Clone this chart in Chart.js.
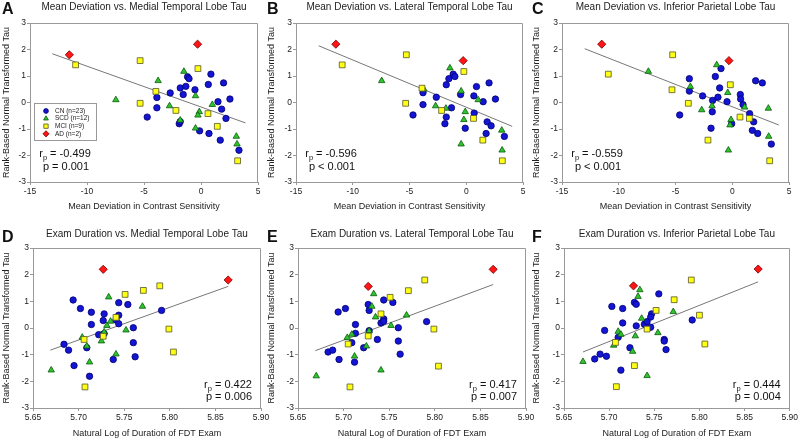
<!DOCTYPE html>
<html>
<head>
<meta charset="utf-8">
<script src="https://cdn.jsdelivr.net/npm/chart.js@4.4.1/dist/chart.umd.min.js"></script>
<style>
    body { margin: 0; background: #fff; width: 800px; height: 440px; position: relative; overflow: hidden; }
    canvas { position: absolute; }
</style>
</head>
<body>
<script>
// tick labels
const mdTicks = [-15, -10, -5, 0, 5]
const durTicks = [5.65, 5.70, 5.75, 5.80, 5.85, 5.90]
const tauTicks = [-3, -2, -1, 0, 1, 2, 3]
const groupNames = ["CN (n=23)", "SCD (n=12)", "MCI (n=9)", "AD (n=2)"]

// A: mean deviation vs medial temporal tau
const cnA = [[-4.72,-0.55],[-3.87,0.19],[-3.87,-0.2],[-2.7,0.36],[-1.82,0.55],[-1.56,0.3],[-1.33,0.61],[-1.18,0.97],[-1.05,0.9],[-1.91,-0.8],[-1.82,-0.72],[-0.53,0.48],[-0.12,-1.07],[0.64,0.68],[0.87,1.07],[0.7,-1.17],[1.49,0.03],[1.81,-0.25],[1.98,0.74],[1.69,-1.42],[2.19,-0.6],[2.54,0.13],[3.33,-1.8]]
const scdA = [[-7.47,0.1],[-3.76,0.82],[-2.76,-0.13],[-1.82,-0.67],[-1.5,1.17],[-0.48,0.25],[-0.48,-0.97],[-0.15,-0.35],[-0.27,-0.48],[0.99,-0.08],[3.1,-1.28],[3.16,-1.57]]
const mciA = [[-11.0,1.42],[-5.34,1.58],[-5.34,-0.03],[-3.96,0.42],[-2.2,-0.3],[-0.27,1.28],[0.61,-0.42],[1.43,-0.9],[3.21,-2.2]]
const adA = [[-11.55,1.8],[-0.3,2.2]]
const fitA = [[-13.05,1.84],[3.9,-0.77]]

// B: mean deviation vs lateral temporal tau
const cnB = [[-4.69,-0.47],[-3.81,0.37],[-3.81,-0.08],[-2.64,0.2],[-1.76,0.67],[-1.53,0.9],[-1.15,1.07],[-1.0,0.98],[-1.3,-0.2],[-1.76,-0.55],[-1.88,-0.8],[-0.5,0.3],[-0.09,-0.97],[0.7,-0.4],[0.67,0.25],[0.9,0.6],[1.49,0.03],[1.84,-0.73],[1.75,-1.17],[2.01,0.74],[2.19,-0.88],[2.57,0.13],[3.36,-1.28]]
const scdB = [[-7.45,0.82],[-3.73,0.5],[-2.7,-0.13],[-1.79,-0.22],[-1.44,1.3],[-0.45,0.43],[-0.09,-0.35],[-0.21,-0.65],[-0.45,-1.57],[1.05,0.1],[3.13,-1.05],[3.16,-1.8]]
const mciB = [[-10.93,1.42],[-5.28,1.8],[-5.34,-0.03],[-3.9,0.54],[-2.17,-0.3],[-0.21,1.17],[0.64,-0.6],[1.46,-1.42],[3.18,-2.2]]
const adB = [[-11.49,2.2],[-0.27,1.58]]
const fitB = [[-13.0,2.14],[4.05,-0.9]]

// C: mean deviation vs inferior parietal tau
const cnC = [[-4.63,-0.47],[-3.78,0.9],[-3.78,0.43],[-2.61,0.25],[-1.73,0.08],[-1.76,-0.35],[-1.87,-0.97],[-1.49,0.98],[-0.99,1.28],[-1.11,0.55],[-1.26,0.2],[-0.46,0.03],[-0.05,-0.8],[0.71,0.3],[0.74,0.13],[0.95,-0.08],[1.53,-0.42],[1.89,-0.73],[1.77,-1.05],[2.06,0.82],[2.65,0.74],[2.24,-1.17],[3.44,-1.57]]
const scdC = [[-7.39,1.17],[-3.69,0.6],[-2.69,-0.28],[-1.78,-0.13],[-1.37,1.42],[-0.4,0.37],[-0.34,-1.8],[-0.11,-0.65],[-0.2,-0.85],[1.09,-0.18],[3.18,-0.22],[3.21,-1.28]]
const mciC = [[-10.92,1.07],[-5.25,1.8],[-5.31,0.48],[-3.87,-0.03],[-2.14,-1.42],[-0.17,0.67],[0.68,-0.55],[1.51,-0.6],[3.3,-2.2]]
const adC = [[-11.5,2.2],[-0.29,1.58]]
const fitC = [[-13.0,2.03],[4.1,-0.85]]

// D: exam duration vs medial temporal tau
const cnD = [[5.684,-0.61],[5.689,-0.83],[5.694,1.05],[5.695,-1.41],[5.702,0.73],[5.709,-0.74],[5.714,0.59],[5.714,0.13],[5.712,-1.81],[5.722,-0.25],[5.727,0.28],[5.728,0.53],[5.728,-0.21],[5.741,0.3],[5.744,0.95],[5.744,0.48],[5.744,0.16],[5.738,-1.18],[5.754,0.88],[5.76,0.01],[5.76,-0.55],[5.762,-1.08],[5.791,0.66]]
const scdD = [[5.67,-1.58],[5.704,-0.35],[5.709,-0.68],[5.712,-1.28],[5.725,-0.49],[5.728,-0.15],[5.731,0.09],[5.733,1.16],[5.735,0.25],[5.741,-0.98],[5.752,-0.08],[5.77,0.81]]
const mciD = [[5.706,-0.43],[5.727,-0.31],[5.741,0.4],[5.751,1.26],[5.771,1.41],[5.789,1.58],[5.799,-0.04],[5.804,-0.9],[5.707,-2.21]]
const adD = [[5.727,2.2],[5.864,1.8]]
const fitD = [[5.669,-0.83],[5.864,1.56]]

// E: exam duration vs lateral temporal tau
const cnE = [[5.683,-0.9],[5.688,-0.83],[5.694,0.6],[5.695,-1.18],[5.702,0.73],[5.709,-0.55],[5.713,0.13],[5.713,-0.2],[5.712,-1.28],[5.722,-0.74],[5.727,0.88],[5.728,0.66],[5.728,-0.1],[5.737,-0.43],[5.741,0.19],[5.744,1.05],[5.744,0.34],[5.744,0.25],[5.754,0.96],[5.76,0.01],[5.76,-0.49],[5.762,-0.98],[5.791,0.24]]
const scdE = [[5.67,-1.8],[5.704,-0.36],[5.709,-0.24],[5.712,-1.06],[5.725,-0.68],[5.728,-0.11],[5.731,0.81],[5.733,1.28],[5.735,0.41],[5.741,-1.58],[5.752,0.09],[5.769,0.48]]
const mciE = [[5.705,-0.6],[5.707,-2.21],[5.727,-0.3],[5.741,0.53],[5.751,1.15],[5.771,1.4],[5.789,1.8],[5.799,-0.04],[5.804,-1.43]]
const adE = [[5.727,1.56],[5.864,2.2]]
const fitE = [[5.669,-0.85],[5.864,1.63]]

// F: exam duration vs inferior parietal tau
const cnF = [[5.684,-1.16],[5.69,-0.98],[5.695,-0.09],[5.697,-1.06],[5.703,0.81],[5.71,-0.35],[5.715,0.73],[5.715,0.19],[5.713,-1.58],[5.723,-0.74],[5.728,0.96],[5.73,0.89],[5.73,0.08],[5.739,0.14],[5.742,0.24],[5.747,0.53],[5.746,0.41],[5.746,0.03],[5.755,1.28],[5.761,-0.43],[5.761,-0.49],[5.763,-0.81],[5.792,0.3]]
const scdF = [[5.671,-1.26],[5.705,-0.65],[5.71,-0.13],[5.713,-0.24],[5.726,-0.88],[5.729,-0.3],[5.732,1.18],[5.734,1.43],[5.736,0.36],[5.742,-1.79],[5.754,-0.18],[5.771,0.61]]
const mciF = [[5.707,-0.54],[5.708,-2.2],[5.728,-1.41],[5.742,-0.04],[5.752,0.66],[5.772,1.06],[5.791,1.8],[5.8,0.48],[5.806,-0.6]]
const adF = [[5.727,1.58],[5.865,2.21]]
const fitF = [[5.671,-0.9],[5.865,1.73]]

const MD_TITLE = "Mean Deviation in Contrast Sensitivity"
const DUR_TITLE = "Natural Log of Duration of FDT Exam"
const Y_TITLE = "Rank-Based Normal Transformed Tau"

const panels = [
    { letter: "A", title: "Mean Deviation vs. Medial Temporal Lobe Tau", xTitle: MD_TITLE, xTicks: mdTicks, sets: [cnA, scdA, mciA, adA], fit: fitA, r: "-0.499", p: "p = 0.001", legend: true },
    { letter: "B", title: "Mean Deviation vs. Lateral Temporal Lobe Tau", xTitle: MD_TITLE, xTicks: mdTicks, sets: [cnB, scdB, mciB, adB], fit: fitB, r: "-0.596", p: "p < 0.001" },
    { letter: "C", title: "Mean Deviation vs. Inferior Parietal Lobe Tau", xTitle: MD_TITLE, xTicks: mdTicks, sets: [cnC, scdC, mciC, adC], fit: fitC, r: "-0.559", p: "p < 0.001" },
    { letter: "D", title: "Exam Duration vs. Medial Temporal Lobe Tau", xTitle: DUR_TITLE, xTicks: durTicks, sets: [cnD, scdD, mciD, adD], fit: fitD, r: "0.422", p: "p = 0.006" },
    { letter: "E", title: "Exam Duration vs. Lateral Temporal Lobe Tau", xTitle: DUR_TITLE, xTicks: durTicks, sets: [cnE, scdE, mciE, adE], fit: fitE, r: "0.417", p: "p = 0.007" },
    { letter: "F", title: "Exam Duration vs. Inferior Parietal Lobe Tau", xTitle: DUR_TITLE, xTicks: durTicks, sets: [cnF, scdF, mciF, adF], fit: fitF, r: "0.444", p: "p = 0.004" },
]

// canvas boxes and plot-area insets (pixels)
const boxes = [
    { x: 0, y: 0, w: 270, h: 215, yw: 30, pr: 12, pt: 23, xh: 33, titleY: 7.5, letterY: 13.5, top: true },
    { x: 265, y: 0, w: 270, h: 215, yw: 31, pr: 12, pt: 23, xh: 33, titleY: 7.5, letterY: 13.5, top: true },
    { x: 530, y: 0, w: 270, h: 215, yw: 32, pr: 11, pt: 23, xh: 33, titleY: 7.5, letterY: 13.5, top: true },
    { x: 0, y: 215, w: 275, h: 225, yw: 33, pr: 14, pt: 33, xh: 32, titleY: 19, letterY: 26.5, top: false },
    { x: 265, y: 215, w: 275, h: 225, yw: 33, pr: 14, pt: 33, xh: 32, titleY: 19, letterY: 26.5, top: false },
    { x: 530, y: 215, w: 270, h: 225, yw: 34, pr: 9, pt: 33, xh: 32, titleY: 19, letterY: 26.5, top: false },
]

const STYLES = [
    { pointStyle: "circle", radius: 3.2, bg: "#1414d4", border: "#00006e" },
    { pointStyle: "triangle", radius: 3.7, bg: "#2ec42e", border: "#0a5a0a" },
    { pointStyle: "rect", radius: 4.1, bg: "#ffff14", border: "#55552a" },
    { pointStyle: "rectRot", radius: 4.1, bg: "#ff1515", border: "#700000" },
]

const FONT = "'Liberation Sans', Arial, sans-serif"
Chart.defaults.font.family = FONT

const toPts = arr => arr.map(([x, y]) => ({ x, y }))

function drawR(ctx, cx, cy, r) {
    ctx.textAlign = "left"
    ctx.textBaseline = "alphabetic"
    const big = `11px ${FONT}`
    const small = `7.5px ${FONT}`
    ctx.font = big
    const w1 = ctx.measureText("r").width
    const w3 = ctx.measureText(" = " + r).width
    ctx.font = small
    const w2 = ctx.measureText("p").width
    let x = cx - (w1 + w2 + w3) / 2
    const base = cy + 4
    ctx.font = big
    ctx.fillText("r", x, base)
    x += w1
    ctx.font = small
    ctx.fillText("p", x, base + 2.5)
    x += w2
    ctx.font = big
    ctx.fillText(" = " + r, x, base)
}

const decor = {
    id: "decor",
    beforeDatasetsDraw(chart) {
        const { ctx, chartArea: a } = chart
        ctx.save()
        ctx.strokeStyle = "#999"
        ctx.lineWidth = 1
        ctx.beginPath()
        const t = Math.round(a.top) + 0.5
        const rr = Math.round(a.right) - 0.5
        ctx.moveTo(a.left, t)
        ctx.lineTo(rr, t)
        ctx.lineTo(rr, a.bottom)
        ctx.stroke()
        ctx.restore()
    },
    afterDraw(chart, args, o) {
        const { ctx, chartArea: a } = chart
        ctx.save()
        ctx.fillStyle = "#111"
        ctx.font = `bold 16px ${FONT}`
        ctx.textAlign = "left"
        ctx.textBaseline = "alphabetic"
        ctx.fillText(o.letter, 2, o.letterY)

        ctx.fillStyle = "#222"
        ctx.font = `10px ${FONT}`
        ctx.textAlign = "center"
        ctx.textBaseline = "middle"
        ctx.fillText(o.title, (a.left + a.right) / 2, o.titleY)

        ctx.fillStyle = "#111"
        if (o.top) {
            const cx = a.left + 35
            drawR(ctx, cx, a.bottom - 29, o.r)
            ctx.font = `11px ${FONT}`
            ctx.textAlign = "center"
            ctx.textBaseline = "middle"
            ctx.fillText(o.p, cx + 1, a.bottom - 15)
        } else {
            const cx = a.right - 33
            drawR(ctx, cx, a.bottom - 24, o.r)
            ctx.font = `11px ${FONT}`
            ctx.textAlign = "center"
            ctx.textBaseline = "middle"
            ctx.fillText(o.p, cx + 1, a.bottom - 11)
        }

        if (o.legend) {
            const lx = a.left + 4, ly = a.top + 80
            ctx.fillStyle = "#fff"
            ctx.strokeStyle = "#999"
            ctx.lineWidth = 1
            ctx.fillRect(lx, ly, 63, 38)
            ctx.strokeRect(lx + 0.5, ly + 0.5, 62, 37)
            ctx.font = `6.5px ${FONT}`
            ctx.textAlign = "left"
            ctx.textBaseline = "middle"
            groupNames.forEach((name, i) => {
                const s = STYLES[i]
                const y = ly + 8 + i * 7.6
                ctx.fillStyle = s.bg
                ctx.strokeStyle = s.border
                ctx.lineWidth = 0.8
                Chart.helpers.drawPoint(ctx, { pointStyle: s.pointStyle, radius: s.radius * 0.75, rotation: 0, borderWidth: 0.8 }, lx + 12, y)
                ctx.fillStyle = "#222"
                ctx.fillText(name, lx + 21, y)
            })
        }
        ctx.restore()
    },
}

function axis(ticks, title, box, isX) {
    return {
        type: "linear",
        min: ticks[0],
        max: ticks[ticks.length - 1],
        afterBuildTicks: s => { s.ticks = ticks.map(v => ({ value: v })) },
        afterFit: s => {
            if (isX) s.height = box.xh
            else s.width = box.yw
        },
        grid: { drawOnChartArea: false, drawTicks: true, tickLength: 3, color: "#999" },
        border: { display: true, color: "#999" },
        ticks: {
            color: "#222",
            font: { size: 8.5 },
            padding: isX ? 2 : 1,
            callback: v => (isX && !box.top) ? v.toFixed(2) : String(v),
        },
        title: {
            display: true,
            text: title,
            color: "#222",
            font: { size: 9 },
            padding: isX ? { top: 0, bottom: box.top ? 2.6 : 1.3 } : { top: 1.6, bottom: 0 },
        },
    }
}

panels.forEach((panel, i) => {
    const box = boxes[i]
    const canvas = document.createElement("canvas")
    canvas.width = box.w
    canvas.height = box.h
    canvas.style.left = box.x + "px"
    canvas.style.top = box.y + "px"
    document.body.append(canvas)

    const datasets = panel.sets.map((set, k) => {
        const s = STYLES[k]
        return {
            label: groupNames[k],
            data: toPts(set),
            pointStyle: s.pointStyle,
            pointRadius: s.radius,
            backgroundColor: s.bg,
            borderColor: s.border,
            borderWidth: 0.8,
            order: 4 - k,
        }
    })
    datasets.push({
        label: "fit",
        data: toPts(panel.fit),
        showLine: true,
        pointRadius: 0,
        borderColor: "#777",
        borderWidth: 1,
        order: 10,
    })

    new Chart(canvas, {
        type: "scatter",
        data: { datasets },
        options: {
            responsive: false,
            animation: false,
            devicePixelRatio: 1,
            layout: { padding: { left: 0, right: box.pr, top: box.pt, bottom: 0 } },
            scales: {
                x: axis(panel.xTicks, panel.xTitle, box, true),
                y: axis(tauTicks, Y_TITLE, box, false),
            },
            plugins: {
                legend: { display: false },
                tooltip: { enabled: false },
                decor: { ...panel, titleY: box.titleY, letterY: box.letterY, top: box.top },
            },
        },
        plugins: [decor],
    })
})
</script>
</body>
</html>
